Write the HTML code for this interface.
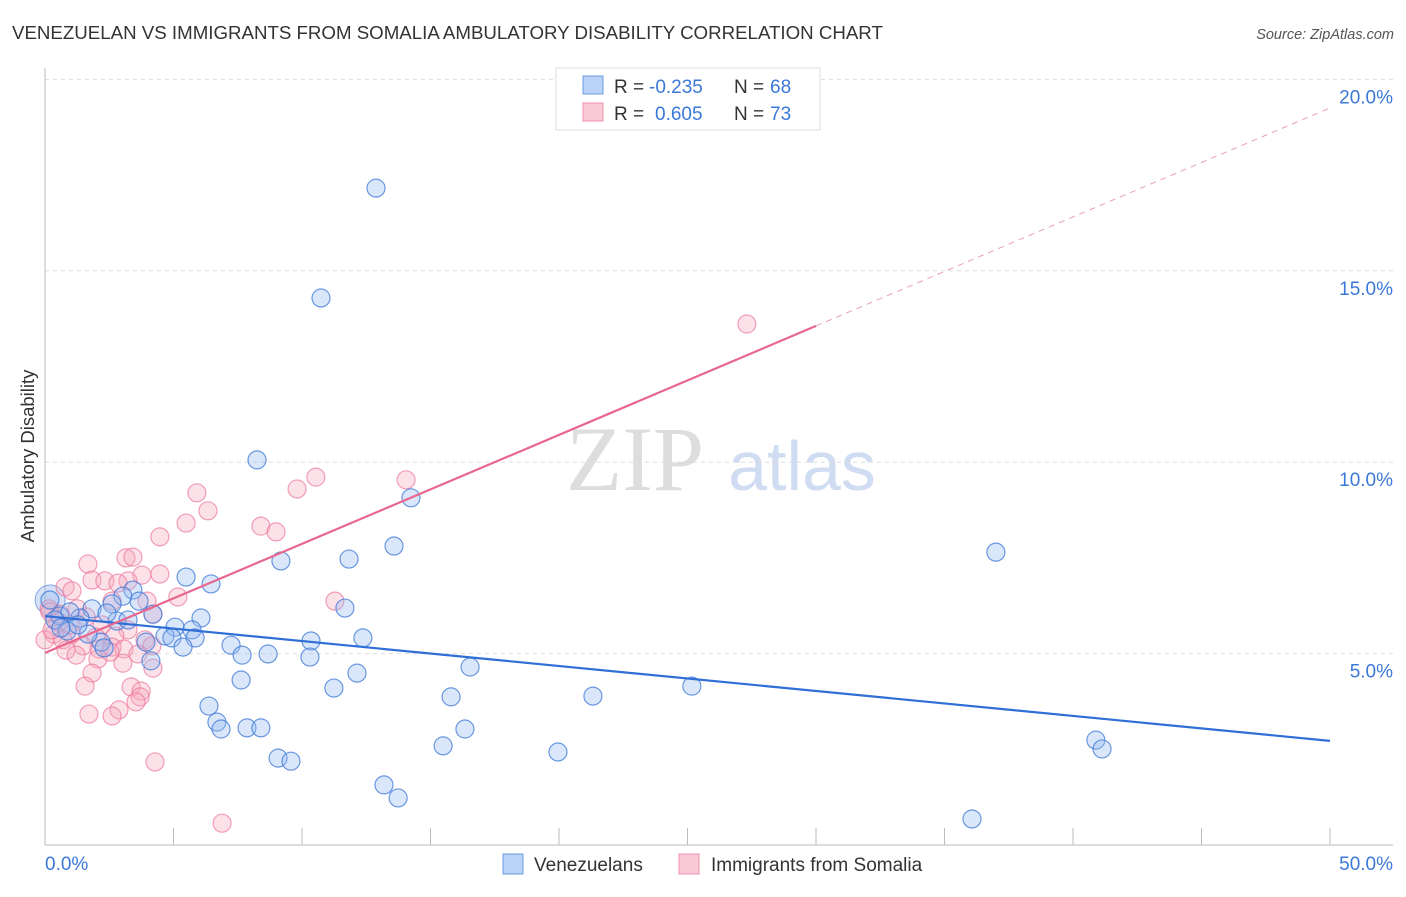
<!DOCTYPE html>
<html><head><meta charset="utf-8"><style>
body{margin:0;background:#fff;font-family:"Liberation Sans",sans-serif;}
svg text{font-family:"Liberation Sans",sans-serif;}
</style></head><body>
<svg width="1406" height="892" viewBox="0 0 1406 892">
<text x="12" y="39" font-size="18.7" fill="#333">VENEZUELAN VS IMMIGRANTS FROM SOMALIA AMBULATORY DISABILITY CORRELATION CHART</text>
<text x="1394" y="39" font-size="14.5" fill="#555" font-style="italic" text-anchor="end">Source: ZipAtlas.com</text>
<g>
<text x="635" y="490" font-size="92" fill="#ddd" text-anchor="middle" style="font-family:'Liberation Serif',serif">ZIP</text>
<text x="802" y="490" font-size="70" fill="#cfdcf2" text-anchor="middle">atlas</text>
</g>
<g id="grid"></g>
<g id="axes"></g>
<g id="pts"></g>
<g id="lines"></g>
<text x="34" y="456" font-size="18.5" fill="#333" transform="rotate(-90 34 456)" text-anchor="middle">Ambulatory Disability</text>
<g>
<rect x="556" y="68" width="264" height="62" fill="#fff" stroke="#ddd"/>
<rect x="583" y="76" width="20" height="18" fill="#b9d2f5" stroke="#6b9be0"/>
<rect x="583" y="103" width="20" height="18" fill="#f9c9d6" stroke="#ee93ad"/>
<text x="614" y="93" font-size="19" fill="#333">R =</text>
<text x="649" y="93" font-size="19" fill="#3b78d8">-0.235</text>
<text x="734" y="93" font-size="19" fill="#333">N =</text>
<text x="770" y="93" font-size="19" fill="#3b78d8">68</text>
<text x="614" y="120" font-size="19" fill="#333">R =</text>
<text x="655" y="120" font-size="19" fill="#3b78d8">0.605</text>
<text x="734" y="120" font-size="19" fill="#333">N =</text>
<text x="770" y="120" font-size="19" fill="#3b78d8">73</text>
</g>
<g>
<rect x="503" y="854" width="20" height="20" fill="#b9d2f5" stroke="#6b9be0"/>
<text x="534" y="871" font-size="19" fill="#333">Venezuelans</text>
<rect x="679" y="854" width="20" height="20" fill="#f9c9d6" stroke="#ee93ad"/>
<text x="711" y="871" font-size="19" fill="#333">Immigrants from Somalia</text>
</g>
</svg>
<script>
const blueX=[12.88,10.74,8.25,14.24,13.58,9.18,11.83,37.00,5.49,6.46,3.42,3.03,2.61,3.66,1.83,4.20,6.07,0.58,1.36,2.80,5.06,5.72,4.67,4.94,5.84,3.93,7.24,10.35,12.37,2.18,5.37,7.67,8.68,10.31,4.12,16.54,12.14,7.63,11.24,21.32,25.17,15.80,6.38,6.69,6.85,7.86,8.40,16.34,15.49,19.96,40.89,41.13,9.07,9.57,13.19,13.74,36.07,11.67,2.30,0.19,0.97,0.39,0.86,1.67,2.41,3.23,1.28,0.62];
const blueY=[17.16,14.29,10.06,9.07,7.81,7.42,7.47,7.65,7.00,6.82,6.66,6.50,6.30,6.37,6.17,6.03,5.93,5.98,5.93,5.85,5.69,5.62,5.46,5.41,5.41,5.30,5.22,5.33,5.41,5.30,5.17,4.96,4.99,4.91,4.81,4.65,4.49,4.31,4.10,3.89,4.15,3.87,3.63,3.21,3.03,3.06,3.06,3.03,2.59,2.43,2.74,2.51,2.27,2.19,1.57,1.23,0.68,6.19,5.15,6.40,6.09,5.88,5.59,5.51,6.06,5.88,5.75,5.67];
const pinkX=[27.31,10.54,14.05,9.81,5.91,6.34,5.49,8.40,8.99,4.47,3.15,3.42,1.67,4.47,3.77,1.83,2.33,3.23,2.84,0.78,1.05,5.17,11.28,2.61,3.97,4.20,0.16,1.25,0.58,1.60,2.22,3.23,0.35,1.05,1.98,0.70,2.72,3.89,1.48,4.16,0.82,2.10,2.61,3.07,3.62,2.06,3.03,4.20,1.83,1.56,3.35,3.74,3.70,3.54,2.88,1.71,2.61,4.28,6.89,0.19,0.51,0.97,0.00,0.27,1.21,2.53];
const pinkY=[13.61,9.61,9.54,9.30,9.20,8.73,8.41,8.33,8.18,8.05,7.50,7.52,7.34,7.08,7.05,6.92,6.90,6.90,6.84,6.74,6.64,6.48,6.37,6.37,6.37,6.03,6.17,6.17,6.03,5.96,5.75,5.62,5.51,5.51,5.43,5.36,5.46,5.36,5.20,5.20,5.09,5.12,5.17,5.12,4.99,4.86,4.75,4.62,4.49,4.15,4.13,4.02,3.87,3.74,3.53,3.42,3.37,2.17,0.57,6.09,5.83,5.75,5.36,5.62,4.96,5.04];
const yTicks=[5,10,15,20];
const yTickLabels=["5.0%","10.0%","15.0%","20.0%"];
const xTicks=[0,5,10,15,20,25,30,35,40,45,50];
const blueTrend=[5.98,2.72];
const pinkTrend=[5.02,13.56,30];
const NS='http://www.w3.org/2000/svg';
const sx=v=>45+v/50*1285, sy=v=>845-v*38.28;
function mk(t,a,p){const e=document.createElementNS(NS,t);for(const k in a)e.setAttribute(k,a[k]);document.getElementById(p).appendChild(e);return e;}
yTicks.forEach((v,i)=>{
 const g=mk('line',{x1:45,x2:1393,y1:sy(v),y2:sy(v),stroke:'#ddd','stroke-dasharray':'4,4'},'grid');
 
 
 const t=mk('text',{x:1393,y:sy(v)+24,'font-size':19,fill:'#3b78d8','text-anchor':'end'},'axes');
 t.textContent=yTickLabels[i];
 
 
});
mk('line',{x1:45,x2:45,y1:68,y2:845,stroke:'#bbb'},'axes');
mk('line',{x1:45,x2:1393,y1:845,y2:845,stroke:'#bbb'},'axes');
xTicks.forEach(v=>{const l=mk('line',{x1:sx(v),x2:sx(v),y1:828,y2:845,stroke:'#bbb'},'axes');
 
 });
let t0=mk('text',{x:45,y:870,'font-size':19,fill:'#3b78d8'},'axes');t0.textContent='0.0%';


let t1=mk('text',{x:1393,y:870,'font-size':19,fill:'#3b78d8','text-anchor':'end'},'axes');t1.textContent='50.0%';


const big=mk('circle',{cx:sx(0.2),cy:sy(6.4),r:15,fill:'rgba(120,160,230,0.3)',stroke:'rgba(60,120,215,0.6)'},'pts');


pinkX.forEach((x,i)=>{const c=mk('circle',{cx:sx(x),cy:sy(pinkY[i]),r:9,fill:'rgba(246,170,193,0.35)',stroke:'rgba(236,120,155,0.7)','stroke-width':1.2},'pts');
 
 });
blueX.forEach((x,i)=>{const c=mk('circle',{cx:sx(x),cy:sy(blueY[i]),r:9,fill:'rgba(150,185,240,0.35)',stroke:'rgba(60,120,215,0.75)','stroke-width':1.2},'pts');
 
 });
const bl=mk('line',{x1:sx(0),y1:sy(blueTrend[0]),x2:sx(50),y2:sy(blueTrend[1]),stroke:'#2f6fd6','stroke-width':2.2},'lines');


const slope=(pinkTrend[1]-pinkTrend[0])/pinkTrend[2];
const pl=mk('line',{x1:sx(0),y1:sy(pinkTrend[0]),x2:sx(pinkTrend[2]),y2:sy(pinkTrend[1]),stroke:'#e8678f','stroke-width':2.2},'lines');


const pd=mk('line',{x1:sx(pinkTrend[2]),y1:sy(pinkTrend[1]),x2:sx(50),y2:sy(pinkTrend[0]+slope*50),stroke:'#e8a0b5','stroke-width':1,'stroke-dasharray':'6,5'},'lines');


</script>
</body></html>
